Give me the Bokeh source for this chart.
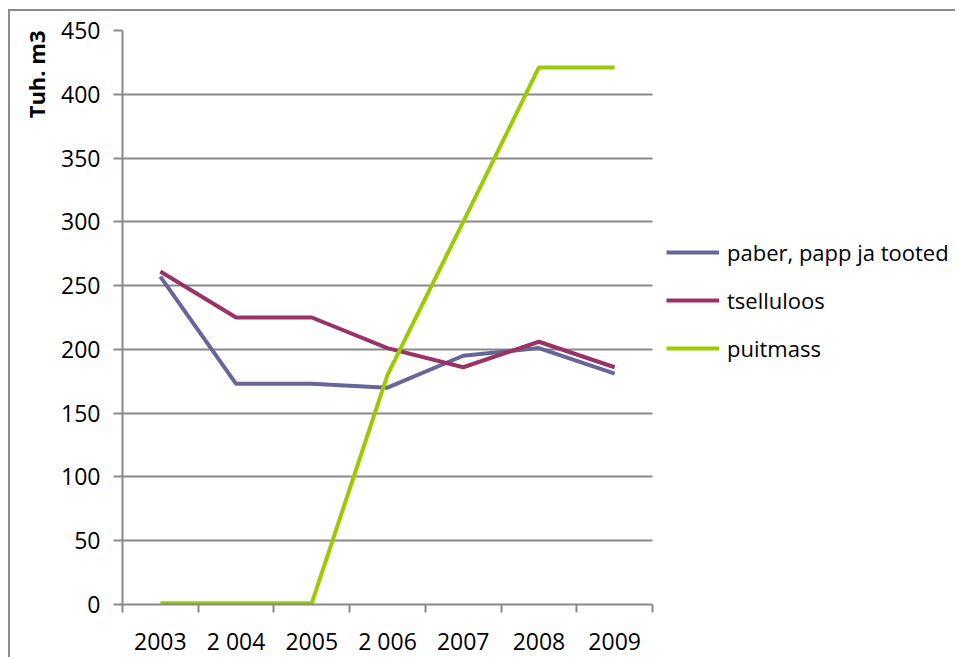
from bokeh.plotting import figure
from bokeh.models import (FixedTicker, Range1d, Legend, LegendItem, Title)
from bokeh.embed import file_html
from bokeh.resources import INLINE

years = ["2003", "2 004", "2005", "2 006", "2007", "2008", "2009"]
paber = [257, 173, 173, 170, 195, 201, 181]
tselluloos = [261, 225, 225, 201, 186, 206, 186]
puitmass = [1, 1, 1, 180, 300, 421, 421]
series_names = ["paber, papp ja tooted", "tselluloos", "puitmass"]
series_colors = ["#666699", "#993366", "#99CC00"]
y_ticks = [0, 50, 100, 150, 200, 250, 300, 350, 400, 450]

FONT = "Open Sans"
GRAY = "#898989"

W, H = 947, 648
LEFT = 112
PLOT_W = 530          # width of the category area in px
n = len(years)
xs = [i + 0.5 for i in range(n)]
x_end = n * (W - LEFT) / PLOT_W   # frame extends to the right edge (legend room)

p = figure(width=W, height=H, output_backend="svg", toolbar_location=None,
           x_range=Range1d(0, x_end), y_range=Range1d(0, 450),
           min_border_left=LEFT, min_border_right=0, min_border_top=19,
           min_border_bottom=53)
p.margin = (9, 0, 0, 8)
p.styles = {"border-left": "2px solid #8c8c8c", "border-top": "2px solid #8c8c8c"}
p.outline_line_color = None
p.background_fill_color = "white"
p.border_fill_color = "white"

renderers = []
for vals, col in zip([paber, tselluloos, puitmass], series_colors):
    r = p.line(xs, vals, line_color=col, line_width=4)
    renderers.append(r)

# x axis: labels at category centres, tick marks at category boundaries
xa = p.xaxis[0]
xa.bounds = (0, n)
xa.ticker = FixedTicker(ticks=xs, minor_ticks=list(range(n + 1)))
xa.major_label_overrides = {x: y for x, y in zip(xs, years)}
xa.major_tick_line_color = None
xa.major_tick_in = 0
xa.major_tick_out = 8
xa.minor_tick_in = 0
xa.minor_tick_out = 8
xa.minor_tick_line_color = GRAY
xa.minor_tick_line_width = 2
xa.axis_line_color = GRAY
xa.axis_line_width = 2
xa.major_label_text_font = FONT
xa.major_label_text_font_size = "23px"
xa.major_label_text_color = "black"
xa.major_label_standoff = 12

ya = p.yaxis[0]
ya.ticker = FixedTicker(ticks=y_ticks, minor_ticks=[])
ya.major_tick_in = 0
ya.major_tick_out = 9
ya.major_tick_line_color = GRAY
ya.major_tick_line_width = 2
ya.minor_tick_line_color = None
ya.axis_line_color = GRAY
ya.axis_line_width = 2
ya.major_label_text_font = FONT
ya.major_label_text_font_size = "23px"
ya.major_label_text_color = "black"
ya.major_label_standoff = 13

ytitle = Title(text="Tuh. m3", align="right", text_font=FONT,
               text_font_size="22px", text_font_style="bold",
               text_color="black", standoff=16)
p.add_layout(ytitle, "left")

p.xgrid.grid_line_color = None
p.ygrid.ticker = FixedTicker(ticks=y_ticks)
p.ygrid.grid_line_color = GRAY
p.ygrid.grid_line_width = 2
p.ygrid.cross_bounds = (0, n)

legend = Legend(
    items=[LegendItem(label=nm, renderers=[r]) for nm, r in zip(series_names, renderers)],
    location=(544, 232), orientation="vertical",
    padding=0, margin=0, spacing=0, border_line_color=None,
    background_fill_alpha=0, glyph_width=53, glyph_height=48, label_height=48,
    label_standoff=8, label_text_font=FONT, label_text_font_size="22px",
    label_text_color="black")
p.add_layout(legend, "center")

open("out.html", "w").write(file_html(p, INLINE))
